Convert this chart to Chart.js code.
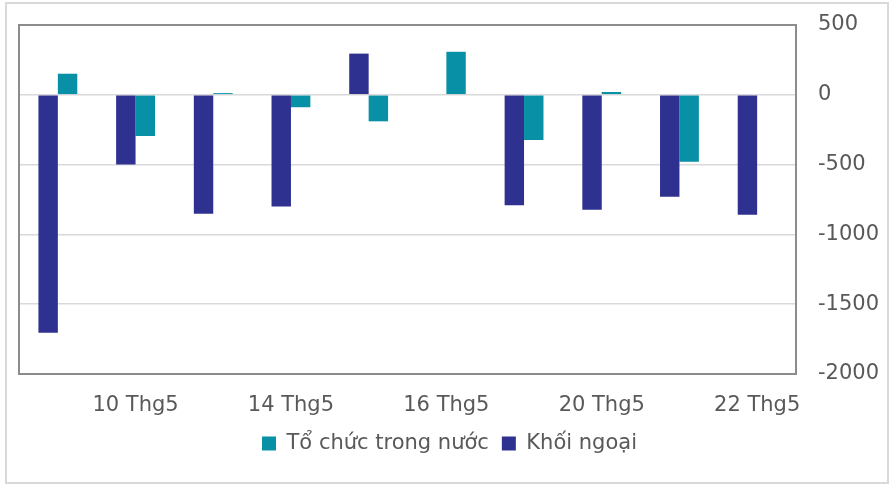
<!DOCTYPE html>
<html>
<head>
<meta charset="utf-8">
<script src="https://cdn.jsdelivr.net/npm/chart.js@4.4.1/dist/chart.umd.min.js"></script>
<style>
  html, body { margin: 0; padding: 0; background: #fff; }
  .frame {
    position: absolute; left: 5px; top: 2px; width: 880px; height: 478px;
    border: 2px solid #d9d9d9;
  }
  .wrap { position: absolute; left: 0; top: 0; width: 893px; height: 485px; }
</style>
</head>
<body>
<div class="frame"></div>
<div class="wrap"><canvas id="chart"></canvas></div>
<script>
const days = ["9 Thg5", "10 Thg5", "13 Thg5", "14 Thg5", "15 Thg5", "16 Thg5", "17 Thg5", "20 Thg5", "21 Thg5", "22 Thg5"];
const foreign = [-1705, -499, -852, -800, 295, 0, -792, -824, -730, -860];
const domestic = [151, -295, 12, -89, -190, 308, -324, 20, -480, 0];
const yTicks = [500, 0, -500, -1000, -1500, -2000];

const textColor = "#595959";
const fontFamily = "'DejaVu Sans', Tahoma, sans-serif";

// frame around the plot area
const plotBox = {
  id: "plotBox",
  afterDraw(chart) {
    const { ctx, chartArea: a } = chart;
    ctx.save();
    ctx.strokeStyle = "#8c8c8c";
    ctx.lineWidth = 2;
    ctx.strokeRect(a.left, a.top, a.right - a.left, a.bottom - a.top);
    ctx.restore();
  },
};

new Chart(document.getElementById("chart"), {
  type: "bar",
  data: {
    labels: days,
    datasets: [
      { label: "Khối ngoại", data: foreign, backgroundColor: "#2e3190" },
      { label: "Tổ chức trong nước", data: domestic, backgroundColor: "#0891a6" },
    ],
  },
  options: {
    responsive: true,
    maintainAspectRatio: false,
    animation: false,
    layout: { padding: { left: 19, right: 13, top: 25, bottom: 21 } },
    datasets: { bar: { categoryPercentage: 0.5, barPercentage: 1 } },
    plugins: {
      tooltip: { enabled: false },
      legend: {
        position: "bottom",
        reverse: true,
        labels: {
          color: textColor,
          font: { family: fontFamily, size: 21 },
          boxWidth: 14,
          boxHeight: 14,
          padding: 13,
        },
      },
    },
    scales: {
      x: {
        grid: { display: false, drawTicks: false },
        border: { display: false },
        afterFit: (axis) => {
          axis.paddingLeft = 0;
          axis.paddingRight = 0;
          axis.height = 46;
        },
        ticks: {
          autoSkip: false,
          maxRotation: 0,
          padding: 19,
          color: textColor,
          font: { family: fontFamily, size: 21 },
          callback: (v, i) => (i % 2 === 1 ? days[i] : ""),
        },
      },
      y: {
        position: "right",
        min: -2000,
        max: 500,
        afterBuildTicks: (axis) => {
          axis.ticks = yTicks.map((v) => ({ value: v }));
        },
        afterFit: (axis) => {
          axis.paddingTop = 0;
          axis.paddingBottom = 0;
          axis.width = 84;
        },
        grid: { color: "#d9d9d9", lineWidth: 1.5, drawTicks: false },
        border: { display: false },
        ticks: {
          padding: 22,
          color: textColor,
          font: { family: fontFamily, size: 21 },
          callback: (v) => String(v),
        },
      },
    },
  },
  plugins: [plotBox],
});
</script>
</body>
</html>
